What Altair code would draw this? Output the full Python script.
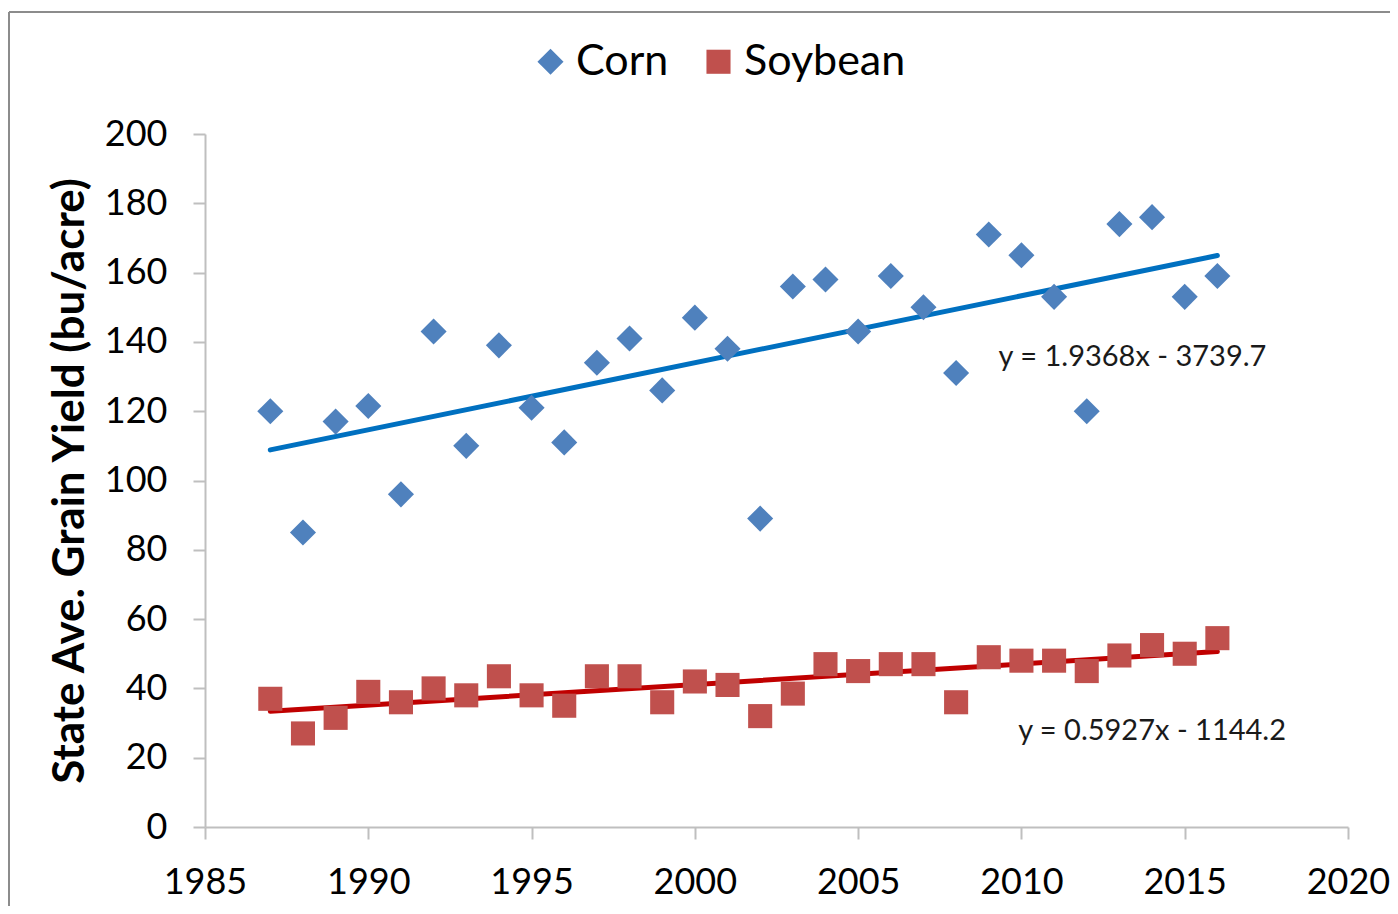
import altair as alt
import pandas as pd

years = list(range(1987, 2017))
corn = [120, 85, 117, 121.5, 96, 143, 110, 139, 121, 111, 134, 141, 126, 147, 138,
        89, 156, 158, 143, 159, 150, 131, 171, 165, 153, 120, 174, 176, 153, 159]
soybean = [37, 27, 31.5, 39, 36, 40, 38, 43.5, 38, 35, 43.5, 43.5, 36, 42, 41,
           32, 38.5, 47, 45, 47, 47, 36, 49, 48, 48, 45, 49.5, 52.5, 50, 54.5]
crops = ["Corn", "Soybean"]
eq_labels = ["y = 1.9368x - 3739.7", "y = 0.5927x - 1144.2"]
eq_x = [2009.3, 2009.9]
eq_y = [135.6, 27.7]

FONT = "Lato"

df = pd.DataFrame({
    "Year": years + years,
    "Yield": corn + soybean,
    "Crop": [crops[0]] * len(years) + [crops[1]] * len(years),
})
eq_df = pd.DataFrame({"x": eq_x, "y": eq_y, "label": eq_labels})

xscale = alt.Scale(domain=[1985, 2020], nice=False, zero=False)
yscale = alt.Scale(domain=[0, 200], nice=False)

x_enc = alt.X("Year:Q", scale=xscale,
              axis=alt.Axis(title=None, values=list(range(1985, 2021, 5)), format="d",
                            labelPadding=26, labelFlush=False, labelOverlap=False))
y_enc = alt.Y("Yield:Q", scale=yscale,
              axis=alt.Axis(title="State Ave. Grain Yield (bu/acre)", values=list(range(0, 201, 20)),
                            labelPadding=26, titlePadding=12, titleFontSize=44,
                            titleFont=FONT, titleFontWeight="bold", titleColor="black"))

legend = alt.Legend(title=None, orient="none", legendX=324, legendY=-94, direction="horizontal",
                    labelFontSize=43, labelFont=FONT, labelColor="black", symbolSize=440,
                    symbolOpacity=1, columnPadding=28, labelOffset=4, padding=0, labelLimit=0)

points = alt.Chart(df).mark_point(filled=True, opacity=1).encode(
    x=x_enc,
    y=y_enc,
    color=alt.Color("Crop:N", scale=alt.Scale(domain=crops, range=["#4F81BD", "#C0504D"]), legend=legend),
    shape=alt.Shape("Crop:N", scale=alt.Scale(domain=crops, range=["diamond", "square"]), legend=legend),
    size=alt.Size("Crop:N", scale=alt.Scale(domain=crops, range=[680, 580]), legend=None),
)

corn_line = alt.Chart(df).transform_filter(alt.datum.Crop == "Corn").transform_regression(
    "Year", "Yield").mark_line(color="#0070C0", strokeWidth=5, strokeCap="round").encode(x=x_enc, y=y_enc)
soy_line = alt.Chart(df).transform_filter(alt.datum.Crop == "Soybean").transform_regression(
    "Year", "Yield").mark_line(color="#C00000", strokeWidth=5, strokeCap="round").encode(x=x_enc, y=y_enc)

eqs = alt.Chart(eq_df).mark_text(align="left", baseline="middle", fontSize=29, font=FONT, color="#1a1a1a").encode(
    x=alt.X("x:Q", scale=xscale),
    y=alt.Y("y:Q", scale=yscale),
    text="label:N",
)

frame_v = alt.Chart(df).mark_rule(color="#8c8c8c", strokeWidth=2).encode(
    x=alt.value(-196), y=alt.value(-122), y2=alt.value(900))
frame_h = alt.Chart(df).mark_rule(color="#8c8c8c", strokeWidth=2).encode(
    x=alt.value(-196), x2=alt.value(1300), y=alt.value(-122))

chart = alt.layer(frame_v, frame_h, corn_line, soy_line, points, eqs).properties(
    width=1143, height=693,
    autosize=alt.AutoSizeParams(type="none"),
    padding={"left": 197, "top": 126, "right": 42, "bottom": 79},
).configure_view(stroke=None).configure_axis(
    grid=False, domainColor="#BFBFBF", domainWidth=2, tickColor="#BFBFBF", tickWidth=2,
    tickSize=12, labelFont=FONT, labelFontSize=36, labelColor="black",
)

chart.save("out.html", embed_options={"renderer": "svg", "actions": False})
